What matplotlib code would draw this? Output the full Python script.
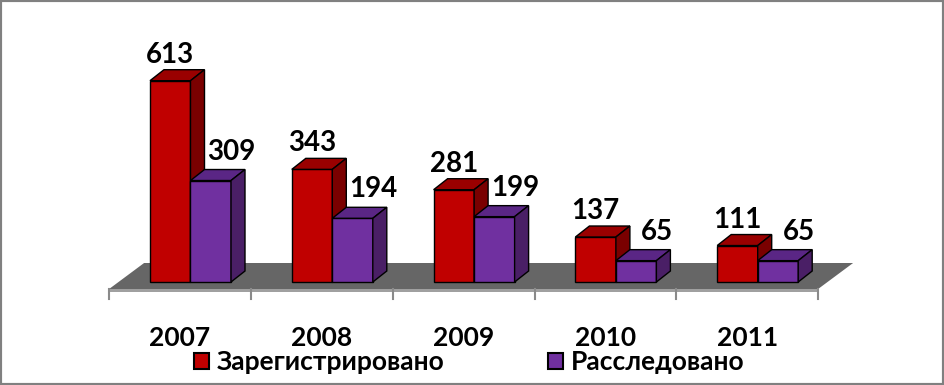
import matplotlib
matplotlib.use("Agg")
import matplotlib.pyplot as plt
from matplotlib.patches import Patch, Rectangle

plt.rcParams['font.family'] = ['Lato', 'DejaVu Sans']

# данные
years = ["2007", "2008", "2009", "2010", "2011"]
registered = [613, 343, 281, 137, 111]
investigated = [309, 194, 199, 65, 65]
series_names = ["Зарегистрировано", "Расследовано"]

W, H = 944, 385
fig = plt.figure(figsize=(W / 100, H / 100), dpi=100)
ax = fig.add_axes([0, 0, 1, 1])

# масштаб: одна категория ~142 px, единица значения ~0.328 px
cat_px = 141.8
val_px = 0.3284
x0_px = 180
base_px = 282
ax.set_xlim(-x0_px / cat_px, (W - x0_px) / cat_px)
ax.set_ylim((base_px - H) / val_px, base_px / val_px)
ax.axis("off")


def px2x(p):
    return p / cat_px


def px2y(p):
    return p / val_px


bar_w = px2x(40.5)
ddx, ddy = px2x(14), px2y(11)


def bar3d(x, h, front, top, side, z):
    ax.fill([x, x + bar_w, x + bar_w, x], [0, 0, h, h],
            fc=front, ec="black", lw=1, zorder=z)
    ax.fill([x, x + bar_w, x + bar_w + ddx, x + ddx], [h, h, h + ddy, h + ddy],
            fc=top, ec="black", lw=1, zorder=z)
    ax.fill([x + bar_w, x + bar_w + ddx, x + bar_w + ddx, x + bar_w],
            [0, ddy, h + ddy, h], fc=side, ec="black", lw=1, zorder=z)


# пол
n = len(years)
fl_front = px2y(-7)
fl_back = fl_front + px2y(26)
fl_dx = px2x(35)
ax.fill([-0.5, n - 0.5, n - 0.5 + fl_dx, -0.5 + fl_dx],
        [fl_front, fl_front, fl_back, fl_back], fc="#666666", ec="none", zorder=1)
ax.fill([-0.5, n - 0.5, n - 0.5, -0.5],
        [fl_front, fl_front, fl_front - px2y(2.5), fl_front - px2y(2.5)],
        fc="#a0a0a0", ec="none", zorder=1)
for i in range(n + 1):
    ax.plot([i - 0.5, i - 0.5], [fl_front, fl_front - px2y(10)],
            color="#8a8a8a", lw=1.5, zorder=1)

red_x = px2x(-30)
purple_x = red_x + bar_w
lbl = dict(fontsize=20, fontweight="bold", ha="center", va="center")
for i in range(n):
    bar3d(i + red_x, registered[i], "#C00000", "#9a0000", "#7a0000", 3 + 2 * i)
    bar3d(i + purple_x, investigated[i], "#7030A0", "#5a2685", "#4a1f66", 4 + 2 * i)
    ax.text(i + red_x + bar_w / 2, registered[i] + ddy + px2y(15), str(registered[i]),
            zorder=20, **lbl)
    ax.text(i + purple_x + bar_w / 2 + px2x(21), investigated[i] + ddy + px2y(18),
            str(investigated[i]), zorder=20, **lbl)
    ax.text(i, px2y(base_px - 338), years[i], ha="center", va="center",
            fontsize=19, fontweight="bold")

handles = [Patch(fc="#C00000", ec="black", lw=1.5, label=series_names[0]),
           Patch(fc="#7030A0", ec="black", lw=1.5, label=series_names[1])]
ax.legend(handles=handles, ncol=2, loc="center", bbox_to_anchor=(469 / W, 1 - 362 / H),
          frameon=False, prop={"size": 19, "weight": "bold"}, handlelength=0.57,
          handleheight=0.57, handletextpad=0.3, columnspacing=3.9, borderpad=0)

fig.add_artist(Rectangle((0, 0), 1, 1, transform=fig.transFigure, fill=False,
                         ec="#808080", lw=3))

fig.savefig("out.png", dpi=100)
